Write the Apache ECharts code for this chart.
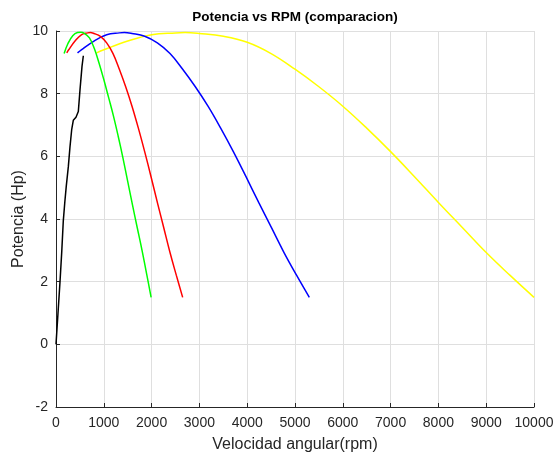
<!DOCTYPE html>
<html>
<head>
<meta charset="utf-8">
<script src="https://cdn.jsdelivr.net/npm/echarts@6/dist/echarts.min.js"></script>
<style>
html,body{margin:0;padding:0;background:#fff;overflow:hidden;}
#chart{width:555px;height:458px;}
</style>
</head>
<body>
<div id="chart"></div>
<script>
// Tick values
var xTicks = [0,1000,2000,3000,4000,5000,6000,7000,8000,9000,10000];
var yTicks = [-2,0,2,4,6,8,10];

// Black curve (rpm, hp)
var blackRpm = [0,40,84,120,153,185,215,258,293,328,362,418,467,502,544,572];
var blackHp  = [0,0.95,2.0,2.95,3.95,4.55,5.05,5.67,6.31,6.85,7.15,7.25,7.43,8.12,8.87,9.21];

// Green curve
var greenRpm = [170,250,350,450,520,600,700,800,900,1000,1100,1200,1300,1400,1500,1600,1700,1800,1900,1990];
var greenHp  = [9.28,9.60,9.85,9.95,9.96,9.92,9.78,9.45,8.98,8.45,7.88,7.30,6.65,5.95,5.20,4.45,3.72,3.00,2.22,1.50];

// Red curve
var redRpm = [225,265,398,530,663,716,795,928,1060,1193,1325,1458,1590,1723,1855,1988,2120,2253,2385,2518,2650];
var redHp  = [9.30,9.40,9.68,9.88,9.94,9.95,9.92,9.83,9.62,9.28,8.78,8.22,7.60,6.90,6.15,5.35,4.53,3.73,2.93,2.20,1.50];

// Blue curve
var blueRpm = [450,530,795,1060,1325,1430,1590,1855,2120,2385,2650,2915,3180,3445,3710,3975,4240,4505,4770,5035,5300];
var blueHp  = [9.30,9.40,9.68,9.88,9.94,9.95,9.92,9.83,9.62,9.28,8.78,8.22,7.60,6.90,6.15,5.35,4.53,3.73,2.93,2.20,1.50];

// Yellow curve
var yellowRpm = [850,1000,1500,2000,2500,2700,3000,3500,4000,4500,5000,5500,6000,6500,7000,7500,8000,8500,9000,9500,10000];
var yellowHp  = [9.30,9.40,9.68,9.88,9.94,9.95,9.92,9.83,9.64,9.28,8.78,8.22,7.60,6.90,6.15,5.35,4.53,3.73,2.93,2.20,1.50];

function pairs(xs, ys){ return xs.map(function(x,i){ return [x, ys[i]]; }); }

var font = 'Liberation Sans, Arial, Helvetica, sans-serif';
var axisColor = '#262626';

var chart = echarts.init(document.getElementById('chart'), null, {renderer:'canvas'});
function mk(name, xs, ys, color, smooth){
  return {
    name: name, type:'line', data: pairs(xs, ys), showSymbol:false, smooth: smooth,
    lineStyle:{color:color, width:1.5}, itemStyle:{color:color}, animation:false, z:3
  };
}
chart.setOption({
  animation:false,
  backgroundColor:'#ffffff',
  title:{
    text:'Potencia vs RPM (comparacion)', left:290, top:5, textAlign:'center',
    textStyle:{fontFamily:font, fontSize:13.5, fontWeight:'bold', color:'#000'}
  },
  grid:{left:56, right:21, top:31, bottom:51, containLabel:false, outerBoundsMode:'none'},
  xAxis:{
    type:'value', min:xTicks[0], max:xTicks[xTicks.length-1], interval:1000,
    name:'Velocidad angular(rpm)', nameLocation:'middle', nameGap:30,
    nameTextStyle:{fontFamily:font, fontSize:16, color:axisColor},
    axisLine:{show:true, onZero:false, lineStyle:{color:axisColor, width:1}},
    axisTick:{show:true, inside:true, length:4, lineStyle:{color:axisColor}},
    axisLabel:{fontFamily:font, fontSize:14, color:axisColor, margin:9,
      formatter:function(v){ return String(v); }},
    splitLine:{show:true, lineStyle:{color:'#dfdfdf', width:1}}
  },
  yAxis:{
    type:'value', min:yTicks[0], max:yTicks[yTicks.length-1], interval:2,
    name:'Potencia (Hp)', nameLocation:'middle', nameGap:29, nameRotate:90,
    nameMoveOverlap:false,
    nameTextStyle:{fontFamily:font, fontSize:16, color:axisColor},
    axisLine:{show:true, onZero:false, lineStyle:{color:axisColor, width:1}},
    axisTick:{show:true, inside:true, length:4, lineStyle:{color:axisColor}},
    axisLabel:{fontFamily:font, fontSize:14, color:axisColor, margin:8,
      formatter:function(v){ return String(v); }},
    splitLine:{show:true, lineStyle:{color:'#dfdfdf', width:1}}
  },
  series:[
    mk('yellow', yellowRpm, yellowHp, '#ffff00', 0.4),
    mk('blue', blueRpm, blueHp, '#0000ff', 0.4),
    mk('red', redRpm, redHp, '#ff0000', 0.4),
    mk('green', greenRpm, greenHp, '#00ff00', 0.4),
    mk('black', blackRpm, blackHp, '#000000', false)
  ]
});
</script>
</body>
</html>
